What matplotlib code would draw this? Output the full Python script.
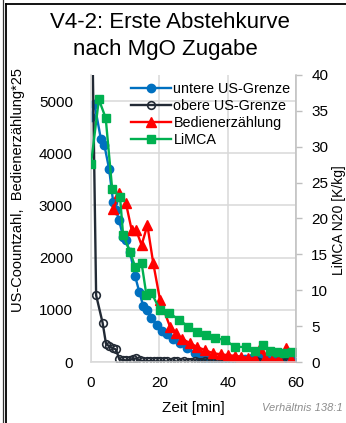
import matplotlib
matplotlib.use("Agg")
import matplotlib.pyplot as plt
from matplotlib.lines import Line2D

plt.rcParams['font.family'] = ['Liberation Sans', 'DejaVu Sans']

# untere US-Grenze (linke Achse)
t_unten = [0, 1, 2.9, 3.9, 5.3, 6.5, 7.3, 8.2, 9.4, 10.1, 11.4, 12.9, 14.1, 15.3, 16.3,
           17.7, 19.2, 20.7, 22.1, 24, 26, 28, 30.4, 31.9, 33.5, 35, 37, 39, 41, 43,
           45, 47, 49, 51, 53, 55, 57, 59]
v_unten = [4700, 4950, 4270, 4160, 3700, 3060, 2910, 2720, 2400, 2340, 2110, 1650, 1350, 1070, 1000,
           850, 710, 600, 540, 450, 360, 260, 165, 100, 50, 30, 20, 20, 30, 40,
           60, 80, 90, 70, 40, 30, 20, 20]

# obere US-Grenze (linke Achse)
t_oben = [0, 1.5, 3.4, 4.4, 5.4, 6.5, 7.3, 8.3, 9.3, 10.3, 11.3, 12.3, 13.3, 14.3, 15.3,
          16.3, 17.3, 18.3, 19.3, 20.3, 21.3, 22.3, 23.3, 24.3, 25.3, 26.3, 27.3, 28.3,
          29.3, 30.3, 31.3, 32.3, 33.3, 34.3, 35.3, 36.3, 37.3, 38.3, 39.3, 40.3, 41.3,
          42.3, 43.3, 44.3, 45.3, 46.3, 47.3, 48.3, 49.3, 55, 56, 57]
v_oben = [8000, 1280, 750, 345, 300, 260, 240, 50, 40, 30, 40, 60, 70, 30, 20,
          10, 20, 15, 10, 10, 15, 10, 5, 10, 10, 5, 10, 5,
          5, 10, 5, 5, 10, 5, 5, 10, 5, 5, 5, 5, 10,
          5, 5, 10, 5, 5, 5, 10, 5, 5, 10, 5]

# Bedienerzählung*25 (linke Achse)
t_bed = [6.5, 8.3, 10.2, 11.9, 13.2, 14.8, 16.5, 18.2, 20.2, 23.1, 25, 26.5, 29, 31,
         33.3, 35.8, 38, 40, 42, 44, 46, 48, 49.5, 51, 53, 55, 57, 58.5]
v_bed = [2930, 3230, 3050, 2530, 2530, 2240, 2620, 1900, 1190, 680, 550, 450, 360, 290,
         230, 165, 150, 130, 120, 100, 80, 60, 260, 80, 30, 60, 260, 60]

# LiMCA N20 [K/kg] (rechte Achse)
t_limca = [0, 2.3, 4.3, 6.2, 8.5, 9.4, 11.4, 12.9, 14.8, 16.2, 17.7, 20.2, 22.9, 25.8,
           28.5, 30.9, 33.6, 36.3, 39.2, 42.1, 45.5, 48, 50.4, 52.5, 54.3, 56.5, 58.7]
v_limca = [27.6, 36.6, 34.0, 24.1, 23.0, 17.7, 15.4, 13.3, 13.8, 9.4, 9.6, 7.3, 6.8, 5.9,
           4.9, 4.2, 3.8, 3.3, 3.1, 2.1, 2.1, 1.5, 2.4, 1.6, 1.4, 1.2, 1.4]

blau = '#0070c0'
dunkel = '#222a35'
rot = '#ff0000'
gruen = '#00b050'
grau = '#d9d9d9'

fig = plt.figure(figsize=(3.46, 4.23), dpi=100)
ax = fig.add_axes([91/346, 1-362/423, 205/346, 287/423])
ax2 = ax.twinx()

l1, = ax.plot(t_unten, v_unten, '-o', color=blau, ms=6, lw=1.7, label='untere US-Grenze')
l2, = ax.plot(t_oben, v_oben, '-o', color=dunkel, mfc='none', ms=5.5, mew=1.2, lw=1.7,
              label='obere US-Grenze')
l3, = ax.plot(t_bed, v_bed, '-^', color=rot, ms=6.5, lw=1.7, label='Bedienerzählung')
l4, = ax2.plot(t_limca, v_limca, '-s', color=gruen, ms=5.5, lw=1.7, label='LiMCA')

ax.set_xlim(0, 60)
ax.set_ylim(0, 5500)
ax2.set_ylim(0, 40)
ax.set_xticks([0, 20, 40, 60])
ax.set_yticks([0, 1000, 2000, 3000, 4000, 5000])
ax2.set_yticks(range(0, 41, 5))

ax.grid(True, color=grau, lw=1.1)
ax.set_axisbelow(True)
for s in ['top', 'right']:
    ax.spines[s].set_visible(False)
for s in ['left', 'bottom']:
    ax.spines[s].set_color(grau)
    ax.spines[s].set_linewidth(1.1)
for s in ['top', 'left', 'bottom']:
    ax2.spines[s].set_visible(False)
ax2.spines['right'].set_color('#bfbfbf')
ax2.spines['right'].set_linewidth(1.1)

ax.tick_params(axis='y', length=0, pad=13, labelsize=11)
ax.tick_params(axis='x', length=0, pad=10, labelsize=11)
ax2.tick_params(axis='y', length=4, width=1, color='#bfbfbf', pad=7, labelsize=11)

ax2.legend([l1, l2, l3, l4], [l.get_label() for l in [l1, l2, l3, l4]],
           loc='upper left', bbox_to_anchor=(0.18, 0.985), frameon=False,
           fontsize=10.4, handlelength=2.8, handletextpad=0.15, labelspacing=0.2,
           borderpad=0.2, borderaxespad=0)

fig.text(170/346, 1-22/423, 'V4-2: Erste Abstehkurve', ha='center', va='center', fontsize=16)
fig.text(165/346, 1-50/423, 'nach MgO Zugabe', ha='center', va='center', fontsize=16)
fig.text(18/346, 1-190/423, 'US-Coountzahl,  Bedienerzählung*25', rotation=90,
         ha='center', va='center', fontsize=10.5)
fig.text(339/346, 1-220/423, 'LiMCA N20 [K/kg]', rotation=90,
         ha='center', va='center', fontsize=10)
fig.text(193/346, 1-408/423, 'Zeit [min]', ha='center', va='center', fontsize=11)
fig.text(262/346, 1-408/423, 'Verhältnis 138:1', ha='left', va='center', fontsize=8,
         style='italic', color='#8c8c8c')

# Rahmen links und oben
fig.add_artist(Line2D([2.5/346, 2.5/346], [0, 1], transform=fig.transFigure, color='#333333', lw=0.9))
fig.add_artist(Line2D([6/346, 6/346], [0, 1-4/423], transform=fig.transFigure, color='black', lw=1.3))
fig.add_artist(Line2D([6/346, 1], [1-4/423, 1-4/423], transform=fig.transFigure, color='black', lw=1.3))

fig.savefig('out.png', dpi=100)
